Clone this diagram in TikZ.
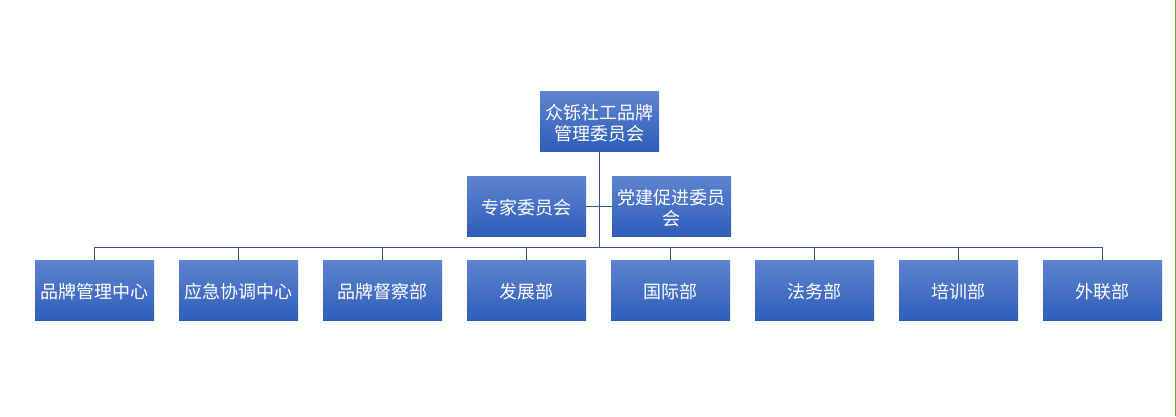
\documentclass[tikz,border=0pt]{standalone}
\usepackage{fontspec}
\newfontfamily\cjk{Noto Sans CJK SC}
\definecolor{boxtop}{HTML}{5E84D0}
\definecolor{boxbot}{HTML}{2E5DB9}
\definecolor{linec}{HTML}{34558F}
\definecolor{edgegreen}{HTML}{6FA04C}
\tikzset{
  orgbox/.style={draw=none, top color=boxtop, bottom color=boxbot, minimum width=119pt, minimum height=60pt, inner sep=0pt},
  orgtext/.style={inner sep=0pt, text=white, align=center, font=\cjk\fontsize{18}{20.5}\selectfont, text width=119pt},
  conn/.style={draw=linec, line width=1pt}
}
\begin{document}
\begin{tikzpicture}[x=1pt,y=-1pt]
\useasboundingbox (0,0) rectangle (1176,416);
\fill[white] (0,0) rectangle (1176,416);
\draw[edgegreen, line width=1.2pt] (1175.4,0) -- (1175.4,416);
\node[orgbox] (top) at (599.5,121) {};
\node[orgtext] (toptext) at ([yshift=-2pt]top.center) {众铄社工品牌\\管理委员会};
\node[orgbox] (expert) at (526.5,206) {};
\node[orgtext] (experttext) at ([yshift=-2pt]expert.center) {专家委员会};
\node[orgbox] (party) at (671.5,206) {};
\node[orgtext] (partytext) at ([yshift=-2pt]party.center) {党建促进委员\\会};
\coordinate (trunk) at (599.5,247);
\draw[conn] (top.south) -- (trunk);
\draw[conn] (expert.east) -- (party.west);
\foreach \i/\t in {0/品牌管理中心,1/应急协调中心,2/品牌督察部,3/发展部,4/国际部,5/法务部,6/培训部,7/外联部}{
  \node[orgbox] (b\i) at ({94.5+144*\i},290) {};
  \node[orgtext] (t\i) at ([yshift=-2pt]b\i.center) {\t};
  \coordinate (c\i) at ({94.5+144*\i},247);
  \draw[conn] (c\i) -- (b\i.north);
}
\draw[conn] (c0) -- (c7);
\end{tikzpicture}
\end{document}
